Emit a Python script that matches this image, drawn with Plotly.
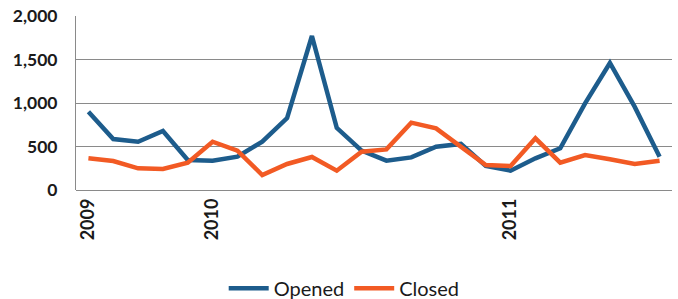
import plotly.graph_objects as go

months = list(range(24))
opened = [900, 586, 555, 678, 345, 337, 383, 555, 827, 1770, 715, 452,
          337, 375, 498, 530, 276, 222, 364, 479, 996, 1460, 955, 383]
closed = [364, 333, 249, 241, 314, 555, 452, 172, 299, 379, 222, 440,
          467, 774, 709, 500, 287, 276, 594, 314, 402, 353, 299, 337]
tick_pos = [0, 5, 17]
tick_text = ["2009", "2010", "2011"]
y_ticks = [0, 500, 1000, 1500, 2000]

font = "Lato, sans-serif"

fig = go.Figure()
fig.add_trace(go.Scatter(x=months, y=opened, mode="lines", name="Opened",
                         line=dict(color="#1D5C8C", width=4.5)))
fig.add_trace(go.Scatter(x=months, y=closed, mode="lines", name="Closed",
                         line=dict(color="#F25A24", width=4.5)))

fig.update_layout(
    width=678, height=299,
    margin=dict(l=76, r=6, t=16, b=109, autoexpand=False),
    paper_bgcolor="white", plot_bgcolor="white",
    font=dict(family=font, color="#1a1a1a"),
    showlegend=True,
    legend=dict(orientation="h", x=0.45, xanchor="center", y=-0.565, yanchor="middle",
                font=dict(size=20, family=font, color="#1a1a1a"),
                itemwidth=40, traceorder="normal"),
    xaxis=dict(range=[-0.5, 23.5], tickmode="array", tickvals=tick_pos, ticktext=tick_text,
               tickangle=-90, tickfont=dict(size=18, family=font, weight="bold"),
               showgrid=False, zeroline=False, showline=False, ticks="",
               automargin=False, ticklabelstandoff=4),
    yaxis=dict(range=[0, 2000], tickmode="array", tickvals=y_ticks,
               tickformat=",d", tickfont=dict(size=17.5, family=font, weight="bold"),
               showgrid=True, gridcolor="#8a8a8a", gridwidth=1,
               zeroline=True, zerolinecolor="#8a8a8a", zerolinewidth=1,
               showline=True, linecolor="#8a8a8a", linewidth=1,
               ticks="", ticklabelstandoff=14, automargin=False),
)

fig.write_html(
    "out.html",
    config={"displayModeBar": False},
    post_script="document.body.style.margin='0';document.body.style.overflow='hidden';",
)
